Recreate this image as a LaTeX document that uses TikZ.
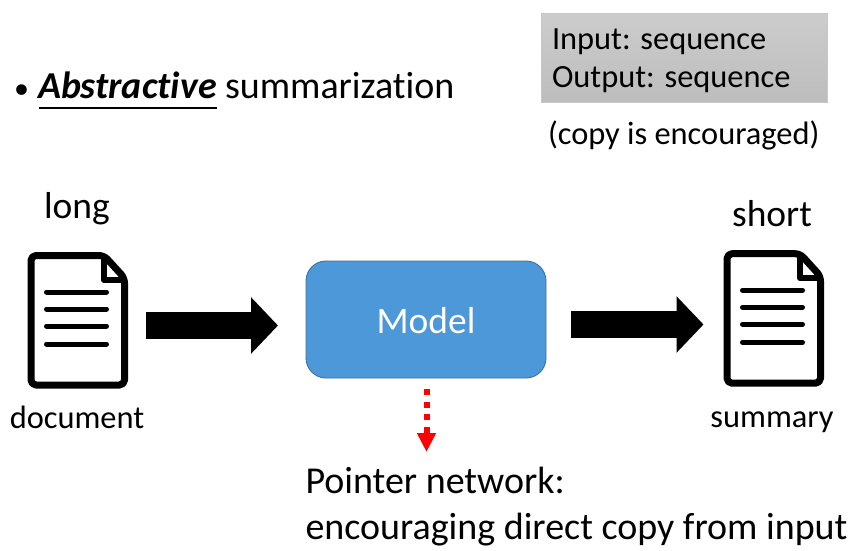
\documentclass[tikz,border=0pt]{standalone}
\usepackage{fontspec}
\setmainfont[Ligatures=NoCommon]{Carlito}
\usetikzlibrary{arrows.meta}
\tikzset{
  every node/.style={inner sep=0pt,outer sep=0pt,text=black},
  lbl/.style={anchor=base west,font=\fontsize{38}{44}\selectfont},
  boxlbl/.style={anchor=base west,font=\fontsize{32.4}{38}\selectfont},
  toplbl/.style={anchor=base,font=\fontsize{37.5}{44}\selectfont},
  small/.style={anchor=base,font=\fontsize{32.4}{38}\selectfont},
  blockarrow/.style={line width=27pt,-{Triangle[length=27pt,width=55pt]}},
  redarrow/.style={draw=red,line width=6pt,dash pattern=on 6pt off 6.6pt,-{Triangle[length=19pt,width=18pt]}},
  docframe/.style={line width=7pt,line join=round},
  docline/.style={line width=5pt,line cap=round},
}
\begin{document}
\begin{tikzpicture}[x=1pt,y=-1pt]
\useasboundingbox (0,0) rectangle (859,551);
% Title
\node[lbl,font=\fontsize{30}{30}\selectfont] (bullet) at (14,98) {•};
\node[lbl,font=\fontsize{38}{44}\selectfont\bfseries\itshape] (abs) at (38,99) {Abstractive};
\node[lbl] (sumz) at (225,99) {summarization};
\draw[line width=1.2pt] (39,108) -- (217,108);
% Grey box
\node[minimum width=286pt,minimum height=89pt,top color=black!20,bottom color=black!26,draw=black!22,line width=0.7pt] (io) at (684.5,58) {};
\node[boxlbl] (inp) at (552,50) {Input: sequence};
\node[boxlbl] (outp) at (552,88) {Output: sequence};
\node[boxlbl] (copy) at (548,144) {(copy is encouraged)};
% Documents
\foreach \n/\dx/\dy/\t/\tx/\ty/\b/\bx/\by in {docL/0/0/long/77/218/document/77/428.5, docR/696/-1.8/short/772/226/summary/772/427.5}{
  \begin{scope}[shift={(\dx,\dy)}]
    \draw[docframe,rounded corners=5pt] (31,255.5) -- (104,255.5) -- (124.5,278) -- (124.5,385) -- (31,385) -- cycle;
    \draw[docframe,line width=6pt] (104,255.5) -- (104,280) -- (124.5,280);
    \foreach \y in {292,309,326,344} \draw[docline] (46.5,\y) -- (106.5,\y);
  \end{scope}
  \node[toplbl] (\n t) at (\tx,\ty) {\t};
  \node[small] (\n b) at (\bx,\by) {\b};
}
% Model
\node[draw={rgb,255:red,62;green,112;blue,160},fill={rgb,255:red,77;green,152;blue,217},rounded corners=20pt,minimum width=240pt,minimum height=117pt,line width=0.9pt] (model) at (426,319.5) {};
\node[font=\fontsize{37.5}{44}\selectfont,text=white] (modelt) at (426,321) {Model};
% Arrows
\coordinate (a1) at (146,325.5); \coordinate (a2) at (278,325.5);
\coordinate (b1) at (571,324.5); \coordinate (b2) at (703.5,324.5);
\draw[blockarrow] (a1) -- (a2);
\draw[blockarrow] (b1) -- (b2);
\coordinate (r1) at (426.5,389); \coordinate (r2) at (426.5,452);
\draw[redarrow] (r1) -- (r2);
% Bottom text
\node[lbl] (p1) at (305.5,493) {Pointer network:};
\node[lbl] (p2) at (305.5,539) {encouraging direct copy from input};
\end{tikzpicture}
\end{document}
